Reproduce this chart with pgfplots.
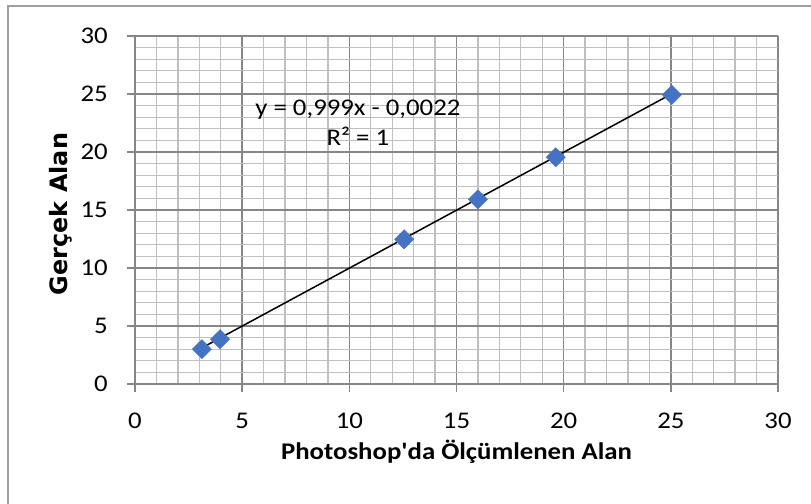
\documentclass[border=0pt]{standalone}
\usepackage{fontspec}
\setmainfont{Carlito}[FakeStretch=1.12, Ligatures=TeXOff]
\newfontfamily\ylfont{DejaVu Sans}
\usepackage{pgfplots}
\pgfplotsset{compat=1.18}
\definecolor{excelblue}{HTML}{4472C4}
\definecolor{majgrid}{HTML}{868686}
\definecolor{mingrid}{HTML}{BFBFBF}
\begin{document}
\begin{tikzpicture}
\path[use as bounding box] (0,0) rectangle (811bp,504bp);
\draw[color=majgrid!80, line width=1.2bp] (8bp,0) -- (8bp,498bp) -- (811bp,498bp);
\begin{axis}[
  at={(135bp,120bp)}, anchor=south west,
  scale only axis, width=643bp, height=348bp,
  xmin=0, xmax=30, ymin=0, ymax=30,
  xtick={0,5,...,30}, ytick={0,5,...,30},
  minor tick num=4,
  grid=both,
  major grid style={color=majgrid, line width=1.4bp},
  minor grid style={color=mingrid, line width=1.3bp},
  axis lines=left,
  axis line style={-, color=majgrid, line width=1.4bp},
  tick align=outside,
  major tick length=8bp, minor tick length=0pt,
  tick style={color=majgrid, line width=1.4bp},
  /pgf/number format/assume math mode=true,
  tick label style={font=\fontsize{24}{24}\selectfont, inner sep=0pt},
  xticklabel style={anchor=center, yshift=-29bp},
  yticklabel style={anchor=east, xshift=-19bp},
  xlabel={Photoshop'da Ölçümlenen Alan},
  xlabel style={at={(axis description cs:0.5,-0.195)}, anchor=center, font=\fontsize{24}{24}\selectfont\bfseries},
  clip=false,
]
\addplot[only marks, mark=square*, mark size=6.8bp, mark options={rotate=45, fill=excelblue, draw=excelblue}]
  coordinates {(3.12,3.0) (3.97,3.86) (12.56,12.47) (16.0,15.92) (19.63,19.55) (25.05,24.92)};
\addplot[black, line width=1.5bp] coordinates {(3.12,3.115) (25.05,25.022)};
\node[align=center, font=\fontsize{24}{30}\selectfont] at (axis cs:10.4,22.5) {y = 0,999x - 0,0022\\R² = 1};
\end{axis}
\node[rotate=90, anchor=center, inner sep=0pt, font=\fontsize{24}{24}\selectfont\ylfont\bfseries] at (61bp,290bp) {Gerçek Alan};
\end{tikzpicture}
\end{document}
